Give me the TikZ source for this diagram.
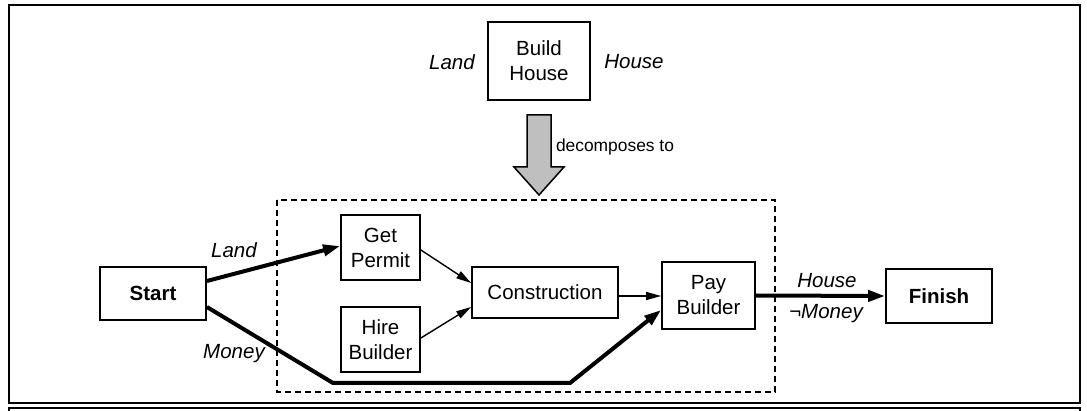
\documentclass[tikz,border=0pt]{standalone}
\usepackage{fontspec}
\setmainfont{Liberation Sans}
\usetikzlibrary{arrows.meta,calc}
\begin{document}
\begin{tikzpicture}[x=1pt,y=-1pt,
  box/.style={draw,line width=1.8pt,inner sep=0pt,align=center,font=\fontsize{20.5}{25}\selectfont},
  lbl/.style={font=\fontsize{20.5}{25}\selectfont\itshape,inner sep=0pt},
  thin/.style={line width=1.4pt,-{Triangle[length=15pt,width=8pt]}},
  thick/.style={line width=4pt,-{Triangle[length=17pt,width=11pt]}},
  frame/.style={line width=2.4pt}]
\useasboundingbox (0,0) rectangle (1087,411);
\draw[frame] (9,5) rectangle (1080,403);
\draw[frame] (9,411) -- (9,408) -- (1080,408) -- (1080,411);
% top
\node[box,minimum width=102pt,minimum height=78pt] (bh) at (539,61) {Build\\House};
\node[lbl] (tland) at (452,62) {Land};
\node[lbl] (thouse) at (634,62) {House};
\draw[line width=1.5pt,fill=black!25] (527,115) -- (551,115) -- (551,167) -- (564,167) -- (539,195) -- (514,167) -- (527,167) -- cycle;
\node[font=\fontsize{17.4}{20}\selectfont,inner sep=0pt] (dec) at (615,147) {decomposes to};
% dashed box
\draw[line width=1.8pt,dash pattern=on 6pt off 4pt] (277,200) rectangle (775,392);
% nodes
\node[box,font=\fontsize{20.5}{25}\selectfont\bfseries,minimum width=106pt,minimum height=53pt] (start) at (153,293.5) {Start};
\node[box,minimum width=79pt,minimum height=65pt] (gp) at (380.5,247.5) {Get\\Permit};
\node[box,minimum width=79pt,minimum height=65pt] (hb) at (380.5,339.5) {Hire\\Builder};
\node[box,minimum width=146pt,minimum height=51pt] (con) at (545,292.5) {Construction};
\node[box,minimum width=93pt,minimum height=67pt] (pay) at (708.5,295.5) {Pay\\Builder};
\node[box,font=\fontsize{20.5}{25}\selectfont\bfseries,minimum width=106pt,minimum height=54pt] (fin) at (939,296) {Finish};
% connectors
\draw[thick] ($(start.east)+(0,-12.5)$) -- ($(gp.west)+(0,-1.5)$);
\coordinate (m1) at (333,383);
\coordinate (m2) at (570,383);
\draw[thick,line join=miter] ($(start.east)+(0,13.5)$) -- (m1) -- (m2) -- ($(pay.west)+(0,14.5)$);
\draw[thin] ($(gp.east)+(0,2.5)$) -- ($(con.west)+(0,-9.5)$);
\draw[thin] ($(hb.east)+(0,-1.5)$) -- ($(con.west)+(0,14.5)$);
\draw[thin] ($(con.east)+(0,3.5)$) -- ($(pay.west)+(0,0.5)$);
\draw[thick] (pay.east) -- (fin.west);
% labels
\node[lbl] (l1) at (234,250) {Land};
\node[lbl] (l2) at (234,354) {Money};
\node[lbl] (l3) at (827,281) {House};
\node[lbl] (l4) at (826,314) {{\upshape ¬}Money};
\end{tikzpicture}
\end{document}
